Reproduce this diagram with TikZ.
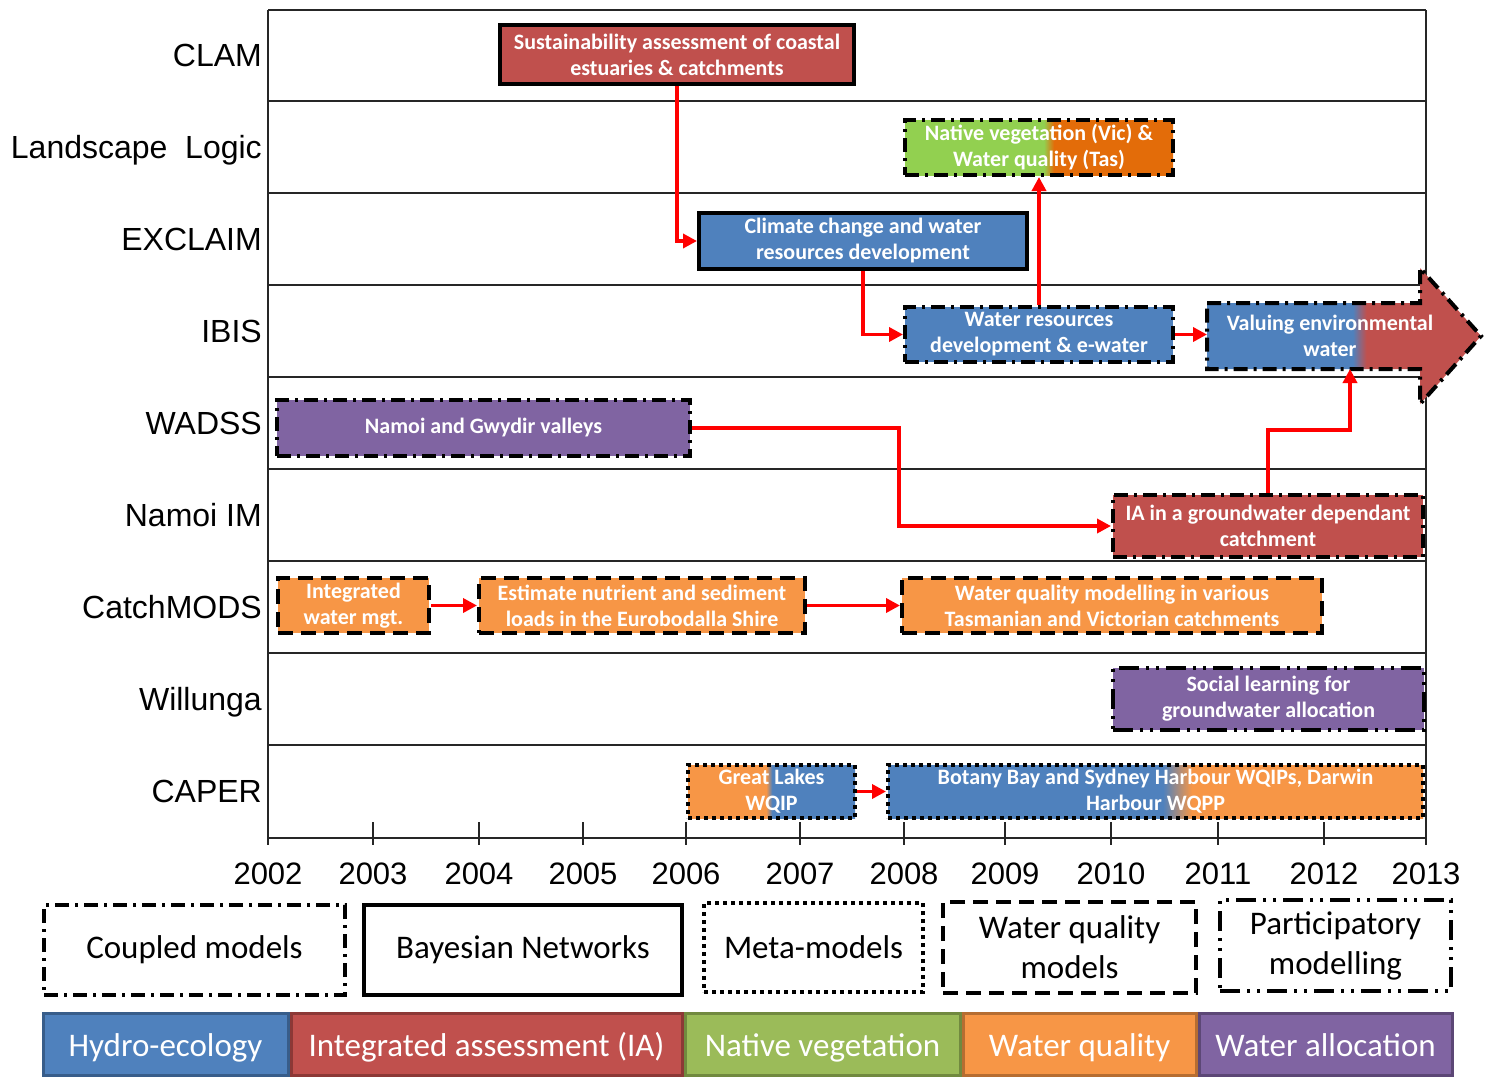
\documentclass[tikz,border=0pt]{standalone}
\usepackage{fontspec}
\setmainfont{Carlito}
\newfontfamily\arialfont{Liberation Sans}
\usetikzlibrary{positioning,arrows.meta}

\definecolor{hydroblue}{RGB}{79,129,189}
\definecolor{hydroedge}{RGB}{56,93,138}
\definecolor{iared}{RGB}{192,80,77}
\definecolor{iaedge}{RGB}{140,56,54}
\definecolor{nvgreen}{RGB}{155,187,89}
\definecolor{nvedge}{RGB}{113,137,63}
\definecolor{limegreen}{RGB}{146,208,80}
\definecolor{wqorange}{RGB}{247,150,70}
\definecolor{wqedge}{RGB}{182,109,49}
\definecolor{burntorange}{RGB}{227,108,9}
\definecolor{wapurple}{RGB}{128,100,162}
\definecolor{waedge}{RGB}{92,71,118}

% two-colour fills with a short blend
\pgfdeclarehorizontalshading{greenorange}{100bp}{color(0bp)=(limegreen); color(25bp)=(limegreen); color(50.9bp)=(limegreen); color(52.8bp)=(burntorange); color(75bp)=(burntorange); color(100bp)=(burntorange)}
\pgfdeclarehorizontalshading{bluered}{100bp}{color(0bp)=(hydroblue); color(25bp)=(hydroblue); color(51.6bp)=(hydroblue); color(54.1bp)=(iared); color(75bp)=(iared); color(100bp)=(iared)}
\pgfdeclarehorizontalshading{orangeblue}{100bp}{color(0bp)=(wqorange); color(25bp)=(wqorange); color(48.4bp)=(wqorange); color(50.2bp)=(hydroblue); color(75bp)=(hydroblue); color(100bp)=(hydroblue)}
\pgfdeclarehorizontalshading{blueorange}{100bp}{color(0bp)=(hydroblue); color(25bp)=(hydroblue); color(50.7bp)=(hydroblue); color(53.4bp)=(wqorange); color(75bp)=(wqorange); color(100bp)=(wqorange)}

\newcommand{\projfont}{\fontsize{22}{26}\selectfont\bfseries}
\newcommand{\rowfont}{\arialfont\fontsize{32}{36}\selectfont}
\newcommand{\yearfont}{\arialfont\fontsize{31}{36}\selectfont}
\newcommand{\keyfont}{\fontsize{33}{40}\selectfont}

\tikzset{
  frame/.style={line width=2pt,draw=black!85},
  proj/.style={rectangle,inner sep=2pt,align=center,text=white,font=\projfont,line width=4pt},
  cmline/.style={draw=black,dash pattern=on 14pt off 6pt on 3pt off 6pt},
  bnline/.style={draw=black},
  mmline/.style={draw=black,dash pattern=on 4pt off 4pt},
  wqline/.style={draw=black,dash pattern=on 15pt off 8pt},
  pmline/.style={draw=black,dash pattern=on 20pt off 7pt on 3pt off 7pt on 3pt off 7pt},
  link/.style={draw=red,line width=3.5pt,-{Triangle[length=14pt,width=14pt]}},
  rowlab/.style={anchor=base east,inner sep=0pt,font=\rowfont},
  yearlab/.style={anchor=base,inner sep=0pt,font=\yearfont},
  key/.style={rectangle,line width=4pt,align=center,font=\keyfont},
  swatch/.style={rectangle,line width=3pt,inner sep=0pt,minimum height=62pt,text height=27pt,text depth=3pt,text=white,font=\keyfont}
}

\begin{document}
\begin{tikzpicture}[x=1pt,y=-1pt]
\useasboundingbox (0,0) rectangle (1485,1076);

% timeline grid
\foreach \y in {10,101,193,285,377,469,561,653,745,838}
  \draw[frame] (268,\y) -- (1426,\y);
\draw[frame] (268,10) -- (268,838);
\draw[frame] (1426,10) -- (1426,838);
\foreach \x/\yr in {268/2002,373/2003,479/2004,583/2005,686/2006,800/2007,904/2008,1005/2009,1111/2010,1218/2011,1324/2012,1426/2013}{
  \draw[frame] (\x,822) -- (\x,845);
  \node[yearlab] (yr\yr) at (\x,884) {\yr};
}
\foreach \y/\txt [count=\i] in {55/CLAM,147/Landscape\ \ Logic,239/EXCLAIM,331/IBIS,423/WADSS,515/Namoi IM,607/CatchMODS,699/Willunga,791/CAPER}
  \node[rowlab] (row\i) at (262,\y+11) {\txt};

% projects
\node[proj,bnline,fill=iared,minimum width=354pt,minimum height=59pt] (sus) at (677,54.5) {Sustainability assessment of coastal\\estuaries \& catchments};
\node[proj,cmline,shade,shading=greenorange,minimum width=268pt,minimum height=55pt] (nat) at (1039,147.5) {Native vegetation (Vic) \&\\Water quality (Tas)};
\node[proj,bnline,fill=hydroblue,minimum width=328pt,minimum height=56pt] (clim) at (863,241) {Climate change and water\\resources development};
\node[proj,cmline,fill=hydroblue,minimum width=268pt,minimum height=55pt] (wres) at (1039,334.5) {Water resources\\development \& e-water};
\shadedraw[cmline,line width=4pt,shading=bluered] (1207,303) -- (1420,303) -- (1420,268) -- (1481,336) -- (1420,404) -- (1420,369) -- (1207,369) -- cycle;
\node[proj] (valu) at (1330,336) {Valuing environmental\\water};
\coordinate (valtail) at (1207,334.5);
\coordinate (valfoot) at (1350,369);
\node[proj,cmline,fill=wapurple,minimum width=413pt,minimum height=56pt] (nam) at (483.5,428) {Namoi and Gwydir valleys};
\node[proj,cmline,fill=iared,minimum width=310pt,minimum height=62pt] (nim) at (1268,526) {IA in a groundwater dependant\\catchment};
\node[proj,wqline,fill=wqorange,minimum width=151pt,minimum height=55pt] (iwm) at (353.5,605.5) {Integrated\\water mgt.};
\node[proj,wqline,fill=wqorange,minimum width=326pt,minimum height=55pt] (est) at (642,605.5) {Estimate nutrient and sediment\\loads in the Eurobodalla Shire};
\node[proj,wqline,fill=wqorange,minimum width=420pt,minimum height=55pt] (wqm) at (1112,605.5) {Water quality modelling in various\\Tasmanian and Victorian catchments};
\node[proj,pmline,fill=wapurple,minimum width=311pt,minimum height=62pt] (soc) at (1268.5,699) {Social learning for\\groundwater allocation};
\node[proj,mmline,shade,shading=orangeblue,minimum width=167pt,minimum height=53pt] (gl) at (771.5,791.5) {Great Lakes\\WQIP};
\node[proj,mmline,shade,shading=blueorange,minimum width=535pt,minimum height=53pt] (bot) at (1155.5,791.5) {Botany Bay and Sydney Harbour WQIPs, Darwin\\Harbour WQPP};

% links
\draw[link] (sus.south) |- (clim.west);
\draw[link] (clim.south) |- (wres.west);
\draw[link] (wres.north) -- (nat.south);
\draw[link] (wres.east) -- (valtail);
\draw[link] (nam.east) -- ++(207,0) |- (nim.west);
\draw[link] (nim.north) -- ++(0,-63) -| (valfoot);
\draw[link] (iwm.east) -- (est.west);
\draw[link] (est.east) -- (wqm.west);
\draw[link] (gl.east) -- (bot.west);

% model types
\node[key,cmline,minimum width=301pt,minimum height=90pt] (cpl) at (194.5,950) {Coupled models};
\node[key,bnline,minimum width=318pt,minimum height=90pt] (bay) at (523,950) {Bayesian Networks};
\node[key,mmline,minimum width=219pt,minimum height=89pt] (meta) at (813.5,947.5) {Meta-models};
\node[key,wqline,minimum width=253pt,minimum height=91pt] (wql) at (1069.5,947.5) {Water quality\\models};
\node[key,pmline,minimum width=231pt,minimum height=91pt] (par) at (1335.5,945.5) {Participatory\\modelling};

% themes
\node[swatch,fill=hydroblue,draw=hydroedge,minimum width=245pt,anchor=north west] (hyd) at (41.5,1011.5) {Hydro-ecology};
\node[swatch,fill=iared,draw=iaedge,minimum width=391pt,right=0pt of hyd] (ia) {Integrated assessment (IA)};
\node[swatch,fill=nvgreen,draw=nvedge,minimum width=275pt,right=0pt of ia] (nv) {Native vegetation};
\node[swatch,fill=wqorange,draw=wqedge,minimum width=233pt,right=0pt of nv] (wq) {Water quality};
\node[swatch,fill=wapurple,draw=waedge,minimum width=253pt,right=0pt of wq] (wa) {Water allocation};
\end{tikzpicture}
\end{document}
